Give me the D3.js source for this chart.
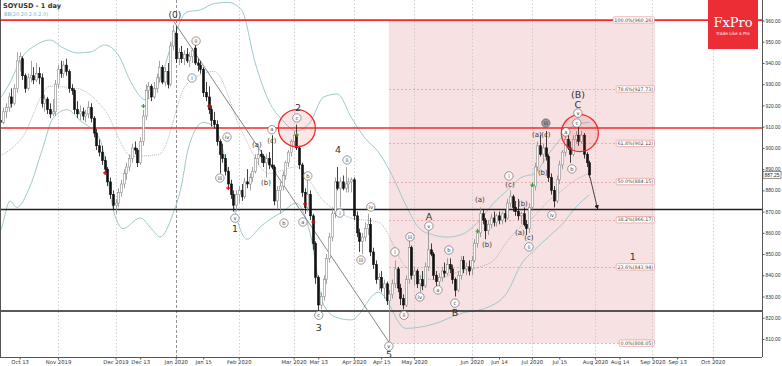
<!DOCTYPE html>
<html lang="en">
<head>
<meta charset="UTF-8">
<title>SOYUSD - 1 day</title>
<script src="https://d3js.org/d3.v7.min.js"></script>
<style>
  body { margin: 0; background: #fff; }
  svg { display: block; font-family: "DejaVu Sans", sans-serif; }
</style>
</head>
<body>
<div class="canvas"></div>
<script>
// one candle per weekday, starting here
let startDate = "2019-10-01";

// [open, high, low, close]
let candles = [
  // Oct 2019
  [908,913,906,911],[911,915,909,913],[913,918,910,912],[912,919,911,917],
  [917,921,914,919],[919,926,917,924],[924,928,919,921],[921,930,920,928],[928,945,926,941],
  [941,945,936,943],[942,943,932,934],[934,935,926,928],[928,935,927,933],[933,941,931,934],
  [934,938,930,932],[932,940,931,935],[935,938,930,933],[933,935,919,921],[921,925,917,923],
  [923,924,916,918],[918,921,914,916],[916,923,915,917],[917,932,915,930],
  // Nov
  [930,939,928,937],
  [937,941,933,935],[935,941,933,939],[939,942,934,936],[936,937,926,928],[928,930,925,927],
  [927,928,916,918],[918,922,914,916],[916,920,913,917],[917,919,913,915],[915,918,912,916],
  [916,922,914,919],[919,921,912,914],[914,915,905,907],[907,909,899,901],[901,904,896,898],
  [898,901,892,894],[894,896,888,890],[890,891,882,884],[884,886,876,878],[878,880,871,873],
  // Dec
  [873,876,869,874],[874,881,872,879],[879,885,877,883],[883,890,881,888],[888,893,885,891],
  [891,897,889,895],[895,902,893,900],[900,903,897,899],[899,900,891,893],[893,905,892,903],
  [903,918,901,915],[915,930,913,927],[927,931,923,929],[929,930,922,924],[924,931,923,928],
  [928,935,926,933],[933,941,931,938],[938,939,930,931],[931,938,929,936],[936,940,928,930],
  [930,950,929,948],[948,958,946,955],
  // Jan 2020
  [954,957,940,942],[942,947,939,945],[945,948,940,942],
  [942,946,939,944],[944,947,940,941],[941,945,938,943],[943,947,940,946],[947,950,939,940],
  [940,942,936,939],[939,941,935,937],[937,938,924,926],[926,931,922,924],[924,929,916,918],
  [918,920,910,913],[913,917,909,911],[911,913,901,903],[903,904,888,897],[897,902,893,895],
  [895,897,887,889],[889,891,881,883],[883,885,876,878],[878,880,870,873],[873,880,870,878],
  // Feb
  [878,882,874,880],[880,883,875,877],[877,886,876,884],[884,890,881,883],[883,888,880,886],
  [886,891,884,889],[889,897,888,895],[895,900,892,897],[897,899,893,896],[896,897,891,893],
  [893,897,886,895],[895,898,890,892],[892,906,890,891],[891,892,873,875],[875,882,871,880],
  [880,884,869,882],[882,889,880,887],[887,894,885,893],[893,899,891,898],[898,904,896,903],
  // Mar
  [903,908,901,906],[906,911,899,900],[900,901,890,892],[892,893,877,879],[879,881,869,872],
  [872,886,870,878],[878,880,866,868],[868,869,852,855],[855,856,836,839],[839,840,823,826],
  [826,832,824,830],[830,840,828,838],[838,850,836,848],[848,860,846,858],[858,872,856,869],
  [869,886,867,884],[884,891,880,881],[881,886,872,884],[884,887,880,881],[881,891,879,883],
  [883,886,879,884],[884,886,879,885],
  // Apr
  [885,886,866,868],[868,870,858,860],[860,862,851,856],
  [856,860,850,858],[858,865,856,862],[862,869,859,864],[864,867,849,851],[851,853,843,845],
  [845,847,836,838],[838,841,833,839],[839,842,832,834],[834,838,829,836],[836,837,826,828],
  [828,833,809,831],[831,838,829,836],[836,847,834,843],[843,844,832,834],[834,836,826,829],
  [829,831,824,826],[826,840,825,838],[838,858,836,853],[853,854,838,840],
  // May
  [840,844,835,842],
  [842,843,834,836],[836,840,832,838],[838,842,833,835],[835,846,834,844],[844,861,842,852],
  [852,855,849,850],[850,851,838,840],[840,842,834,837],[837,841,833,839],[839,844,837,842],
  [842,846,839,841],[841,848,840,845],[845,848,841,843],[843,845,836,838],[838,839,830,833],
  [833,842,832,840],[840,849,838,847],[847,849,841,843],[843,846,840,844],[844,847,840,842],
  // Jun
  [843,849,840,847],[847,857,846,855],[855,862,853,860],[860,872,858,869],[869,871,864,866],
  [866,867,857,861],[861,866,859,864],[864,869,862,867],[867,870,863,865],[865,869,863,868],
  [868,870,864,866],[866,870,864,869],[869,871,865,867],[867,876,866,874],[874,880,872,877],
  [877,878,870,872],[872,875,868,870],[870,876,866,868],[868,870,864,869],[869,872,863,864],
  [864,866,859,862],[862,874,860,872],
  // Jul
  [872,884,871,882],[882,893,880,891],[891,903,889,901],
  [901,906,896,897],[897,902,893,900],[900,908,894,896],[896,897,884,886],[886,888,878,880],
  [880,882,872,875],[875,887,874,885],[885,894,883,892],[892,899,890,898],[898,906,896,904],
  [904,907,899,900],[900,903,893,897],[897,906,896,904],[904,908,902,906],[906,912,901,903],
  [903,908,902,906],[906,907,895,897],[897,898,891,893],[893,894,886,887.25]
];

// Bollinger band readings: candle index + price for each band
let upperIdx = [0,5,10,15,20,25,30,35,40,45,50,55,60,65,70,75,80,85,90,95,100,105,110,115,120,125,130,135,140,145,150,155,160,165,170,177,182,187,192,197,202,207,212,217];
let bbUpper  = [920,929.6,942.8,948.5,950.8,947,944.7,945.2,948.5,943.8,930,922.6,931,950.8,964,965,968,968.5,965,940,922,913,908,912,924,925.4,914.5,904.7,898,887,873,862,859,858,859,866,874,880,886,888,897,905,911,912];
let midIdx   = [0,10,20,30,40,50,60,70,80,90,100,110,120,130,140,150,160,170,177,182,187,192,197,202,207,212,217];
let bbMid    = [895,905,929,928,918,896,897,930,936,908,888,891,875,867,865,844,838,842,844,847,856,863,868,875,880,885,888];
let lowerIdx = [0,2,5.5,8,12.8,17.2,21.2,26.3,31,38.3,43.8,46.7,53,57.7,60.2,65,68.2,70.4,76,80,84,88,92,97,100,105,110,115,120,125,130,140,150,160,170,180,187,192,197,202,207,212,217];
let bbLower  = [858,861,875,872,882,899,914,918,913,904,868,862,867,861,858,869,883,899,912,910,895,868,857,863,866,870,874,860,826,820,819,832,815,817,822,825,832,845,852,858,864,872,878];

let redLevels = [960.2, 909.4];
let blackLevels = [871.0, 823.2];

let fibPct = [0, 23.6, 38.2, 50.0, 61.8, 78.6, 100.0];
let fibVal = [808.05, 843.94, 866.17, 884.15, 902.12, 927.73, 960.26];
let fibFrom = 143.8, fibTo = 241;

let priceTicks = [810, 820, 830, 840, 850, 860, 870, 880, 890, 900, 910, 920, 930, 940, 950, 960];
let lastPrice = 887.25;

let xLabelDates = ["2019-10-13","2019-11-01","2019-12-02","2019-12-13","2020-01-01","2020-01-15","2020-02-03",
  "2020-03-02","2020-03-13","2020-04-01","2020-04-15","2020-05-01","2020-06-01","2020-06-14","2020-07-01",
  "2020-07-15","2020-08-03","2020-08-14","2020-09-01","2020-09-13","2020-10-01"];
let xLabelText = ["Oct 13","Nov 2019","Dec 2019","Dec 13","Jan 2020","Jan 15","Feb 2020","Mar 2020","Mar 13",
  "Apr 2020","Apr 15","May 2020","Jun 2020","Jun 14","Jul 2020","Jul 15","Aug 2020","Aug 14","Sep 2020",
  "Sep 13","Oct 2020"];

// wave labels: text, kind, candle index, price
let waveLabels = [
  ["(0)","big",65.7,962.6],
  ["ii","c",73.4,950.3],["i","c",71.9,932.9],["iv","c",84.7,905.1],["iii","c",82.1,885.8],
  ["v","c",87.6,866.9],["1","num",87.6,861.8],
  ["(a)","p",95.6,901.4],["(b)","p",98.9,883.5],["(c)","p",101.1,903.4],["a","c",101.1,908.6],
  ["b","c",105.5,864.6],["c","c",110.2,914.1],["2","num",110.6,918.9],
  ["b","c",114.2,886.8],["a","c",112.4,865.1],["c","c",118.2,821.2],["3","num",118.2,815.1],
  ["4","num",125.2,899.0],["i","c",125.9,869.3],["ii","c",128.5,894.3],["iii","c",133.6,847.2],
  ["iv","c",137.2,872.2],["i","c",146.0,851.0],["v","c",143.8,806.6],["5","num",143.8,802.6],
  ["ii","c",149.3,821.2],["iii","c",151.5,858.1],["iv","c",155.1,829.8],["v","c",158.4,863.2],
  ["A","num",158.4,867.6],["a","c",161.7,833.1],["b","c",165.7,851.9],["c","c",167.9,826.9],
  ["B","num",167.9,822.2],
  ["(a)","p",177.0,875.5],["(b)","p",179.6,854.3],["i","c",187.6,886.8],["(c)","p",188.0,882.5],
  ["(b)","p",192.7,874.0],["(a)","p",191.6,859.9],["(c)","p",194.9,857.6],["ii","c",194.9,853.4],
  ["(a)","p",197.8,906.1],["(c)","p",201.1,906.1],["iii","cf",201.1,911.7],["(b)","p",200.0,888.2],
  ["iv","c",203.3,868.4],["a","c",208.4,907.5],["b","c",210.6,890.1],["c","c",212.4,911.7],
  ["v","c",212.8,916.4],["C","num",212.8,920.3],["(B)","num",212.8,925.0],
  ["1","num",232.8,848.6]
];

// signal markers: candle index, price, colour
let markers = [[40,888.2,"#d00"],[78,919.7,"#d00"],[85,881.1,"#d00"],[113,873.6,"#d00"],[116,865.1,"#d00"],
  [54,919.7,"#2a2"],[110,906.1,"#2a2"],[176,860.8,"#2a2"],[196,882.5,"#2a2"]];

let trendLine = [[65.3,959.5],[143.8,808.5]];
let arrowLine = [[217.2,886.3],[220.0,871.2]];
let redCircles = [[110.2,909.3],[213.5,907.0]];

// ---- layout
let W = 782, H = 366, plotR = 762, plotB = 357;
let x = d3.scaleLinear().domain([0, 280]).range([-5, 762]);
let y = d3.scaleLinear().domain([810, 960]).range([339, 20.5]);

function tradeIndex(s) {
  let d = new Date(startDate + "T00:00:00Z"), end = new Date(s + "T00:00:00Z"), n = 0;
  while (d < end) {
    let w = d.getUTCDay();
    if (w != 0 && w != 6) n++;
    d.setUTCDate(d.getUTCDate() + 1);
  }
  return n;
}

let svg = d3.select(".canvas").append("svg").attr("width", W).attr("height", H);
let defs = svg.append("defs");
defs.append("clipPath").attr("id", "plot").append("rect")
  .attr("x", 0).attr("y", 0).attr("width", plotR).attr("height", plotB);
defs.append("marker").attr("id", "arr").attr("viewBox", "0 0 10 10").attr("refX", 9).attr("refY", 5)
  .attr("markerWidth", 5).attr("markerHeight", 5).attr("orient", "auto")
  .append("path").attr("d", "M0,0L10,5L0,10z").attr("fill", "#222");

let plot = svg.append("g").attr("clip-path", "url(#plot)");

// pink fib zone
plot.append("rect")
  .attr("x", x(fibFrom)).attr("width", x(fibTo) - x(fibFrom))
  .attr("y", y(fibVal[6])).attr("height", y(fibVal[0]) - y(fibVal[6]))
  .attr("fill", "#f8e1e2");
plot.selectAll(".fibline").data(fibVal).join("line").attr("class", "fibline")
  .attr("x1", x(fibFrom)).attr("x2", x(fibTo))
  .attr("y1", d => Math.round(y(d)) + 0.5).attr("y2", d => Math.round(y(d)) + 0.5)
  .attr("stroke", "#e79a9a").attr("stroke-width", 0.8).attr("stroke-dasharray", "2,2");

// month grid
let gridDates = xLabelDates.filter((d, i) => /20\d\d$/.test(xLabelText[i]));
plot.selectAll(".grid").data(gridDates).join("line").attr("class", "grid")
  .attr("x1", d => Math.round(x(tradeIndex(d))) + 0.5).attr("x2", d => Math.round(x(tradeIndex(d))) + 0.5)
  .attr("y1", 0).attr("y2", plotB)
  .attr("stroke", d => d == "2020-01-01" ? "#777" : "#c4c4c4")
  .attr("stroke-width", 0.8)
  .attr("stroke-dasharray", d => d == "2020-01-01" ? "3,2" : "1.5,2");

// bollinger bands
let bandLine = (idx, vals) => d3.line().x((d, i) => x(idx[i])).y(d => y(d)).curve(d3.curveMonotoneX)(vals);
plot.append("path").attr("d", bandLine(upperIdx, bbUpper)).attr("fill", "none").attr("stroke", "#9cc9cc").attr("stroke-width", 1);
plot.append("path").attr("d", bandLine(lowerIdx, bbLower)).attr("fill", "none").attr("stroke", "#9cc9cc").attr("stroke-width", 1);
plot.append("path").attr("d", bandLine(midIdx, bbMid)).attr("fill", "none").attr("stroke", "#999").attr("stroke-width", 0.7)
  .attr("stroke-dasharray", "1,1");

// horizontal levels
plot.selectAll(".red").data(redLevels).join("line").attr("class", "red")
  .attr("x1", 0).attr("x2", plotR).attr("y1", d => y(d)).attr("y2", d => y(d))
  .attr("stroke", "#f2282c").attr("stroke-width", 1.6);
plot.selectAll(".blk").data(blackLevels).join("line").attr("class", "blk")
  .attr("x1", 0).attr("x2", plotR).attr("y1", d => y(d)).attr("y2", d => y(d))
  .attr("stroke", "#222").attr("stroke-width", 1.4);

// trend line from (0) to the low
plot.append("line")
  .attr("x1", x(trendLine[0][0])).attr("y1", y(trendLine[0][1]))
  .attr("x2", x(trendLine[1][0])).attr("y2", y(trendLine[1][1]))
  .attr("stroke", "#666").attr("stroke-width", 0.8);

// candles
let cg = plot.append("g");
let up = d => d[3] >= d[0];
cg.selectAll("line").data(candles).join("line")
  .attr("x1", (d, i) => Math.round(x(i)) + 0.5).attr("x2", (d, i) => Math.round(x(i)) + 0.5)
  .attr("y1", d => y(d[1])).attr("y2", d => y(d[2]))
  .attr("stroke", d => up(d) ? "#8c8c8c" : "#111").attr("stroke-width", 0.8);
cg.selectAll("rect").data(candles).join("rect")
  .attr("x", (d, i) => Math.round(x(i)) - 0.5).attr("width", 2)
  .attr("y", d => y(Math.max(d[0], d[3])))
  .attr("height", d => Math.max(0.8, Math.abs(y(d[0]) - y(d[3]))))
  .attr("fill", d => up(d) ? "#fff" : "#111")
  .attr("stroke", d => up(d) ? "#8c8c8c" : "#111").attr("stroke-width", 0.6);

// signal markers
plot.selectAll(".mk").data(markers).join("path").attr("class", "mk")
  .attr("d", d => { let cx = x(d[0]) + 0.5, cy = y(d[1]); return `M${cx-2},${cy}H${cx+2}M${cx},${cy-2}V${cy+2}`; })
  .attr("stroke", d => d[2]).attr("stroke-width", 1.2);

// red circles
plot.selectAll(".rc").data(redCircles).join("circle").attr("class", "rc")
  .attr("cx", d => x(d[0])).attr("cy", d => y(d[1])).attr("r", 18.5)
  .attr("fill", "rgba(240,60,60,0.13)").attr("stroke", "#ee2a2a").attr("stroke-width", 1.3);

// projection arrow
plot.append("line")
  .attr("x1", x(arrowLine[0][0])).attr("y1", y(arrowLine[0][1]))
  .attr("x2", x(arrowLine[1][0])).attr("y2", y(arrowLine[1][1]))
  .attr("stroke", "#333").attr("stroke-width", 0.9).attr("marker-end", "url(#arr)");

// wave labels
let lg = svg.append("g");
waveLabels.forEach(l => {
  let cx = x(l[2]), cy = y(l[3]);
  if (l[1] == "c" || l[1] == "cf") {
    lg.append("circle").attr("cx", cx).attr("cy", cy).attr("r", 4.2)
      .attr("fill", l[1] == "cf" ? "#9a9a9a" : "#fff").attr("stroke", "#555").attr("stroke-width", 0.6);
    lg.append("text").attr("x", cx).attr("y", cy + 1.8).attr("text-anchor", "middle")
      .attr("font-size", 5.2).attr("fill", "#333").text(l[0]);
  } else if (l[1] == "p") {
    lg.append("text").attr("x", cx).attr("y", cy + 2.4).attr("text-anchor", "middle")
      .attr("font-size", 7).attr("fill", "#333").text(l[0]);
  } else {
    lg.append("text").attr("x", cx).attr("y", cy + 3.2).attr("text-anchor", "middle")
      .attr("font-size", l[1] == "big" ? 9 : 9.5).attr("fill", "#333").text(l[0]);
  }
});

// fib labels
let fg = svg.append("g");
fibVal.forEach((v, i) => {
  let t = fibPct[i].toFixed(1) + "%(" + v.toFixed(2) + ")";
  let tx = fg.append("text").attr("x", x(fibTo) - 2).attr("y", y(v) + 1.7).attr("text-anchor", "end")
    .attr("font-size", 4.8).attr("fill", "#444").text(t);
  let bb = tx.node().getBBox();
  fg.insert("rect", "text").attr("x", bb.x - 1.2).attr("y", y(v) - 3.2).attr("width", bb.width + 2.4)
    .attr("height", 6.4).attr("rx", 1.5).attr("fill", "#fff").attr("stroke", "#e08a8a").attr("stroke-width", 0.6);
});

// frame
svg.append("line").attr("x1", 0.5).attr("x2", 0.5).attr("y1", 0).attr("y2", plotB).attr("stroke", "#555");
svg.append("line").attr("x1", plotR + 0.5).attr("x2", plotR + 0.5).attr("y1", 0).attr("y2", plotB).attr("stroke", "#555");
svg.append("line").attr("x1", 0).attr("x2", plotR).attr("y1", plotB + 0.5).attr("y2", plotB + 0.5).attr("stroke", "#555");

// price axis
let ya = svg.append("g").attr("transform", `translate(${plotR + 0.5},0)`)
  .call(d3.axisRight(y).tickValues(priceTicks).tickFormat(d3.format(".2f")).tickSize(2).tickPadding(1));
ya.select(".domain").remove();
ya.selectAll("text").attr("font-size", 4.9).attr("fill", "#333").attr("font-family", "Liberation Sans, Arial, sans-serif");
ya.selectAll("line").attr("stroke", "#555");

let lp = svg.append("g");
lp.append("rect").attr("x", plotR + 1).attr("y", y(lastPrice) - 3.3).attr("width", 18).attr("height", 6.6)
  .attr("fill", "#fff").attr("stroke", "#444").attr("stroke-width", 0.6);
lp.append("text").attr("x", plotR + 2.5).attr("y", y(lastPrice) + 1.8).attr("font-size", 4.9)
  .attr("font-family", "Liberation Sans, Arial, sans-serif").attr("fill", "#222").text(lastPrice.toFixed(2));

// time axis
let xa = svg.append("g").attr("transform", `translate(0,${plotB + 0.5})`)
  .call(d3.axisBottom(x).tickValues(xLabelDates.map(tradeIndex)).tickFormat((d, i) => xLabelText[i]).tickSize(2).tickPadding(1));
xa.select(".domain").remove();
xa.selectAll("text").attr("font-size", 5.3).attr("fill", "#333").attr("font-family", "DejaVu Sans");
xa.selectAll("line").attr("stroke", "#555");

// logo
let logo = svg.append("g");
logo.append("rect").attr("x", 708).attr("y", 0).attr("width", 50).attr("height", 49).attr("fill", "#ec2d35");
logo.append("text").attr("x", 733).attr("y", 27).attr("text-anchor", "middle").attr("font-family", "DejaVu Serif")
  .attr("font-size", 13).attr("fill", "#fff").text("FxPro");
logo.append("text").attr("x", 733).attr("y", 34.5).attr("text-anchor", "middle")
  .attr("font-size", 4.3).attr("fill", "#fff").text("Trade Like a Pro");

// title
svg.append("text").attr("x", 3).attr("y", 8).attr("font-size", 6.6).attr("font-weight", "bold").attr("fill", "#333").text("SOYUSD - 1 day");
svg.append("text").attr("x", 4).attr("y", 15.5).attr("font-size", 5).attr("fill", "#7db5b8").text("BB(20,20,2.0,2.0)");
</script>
</body>
</html>
